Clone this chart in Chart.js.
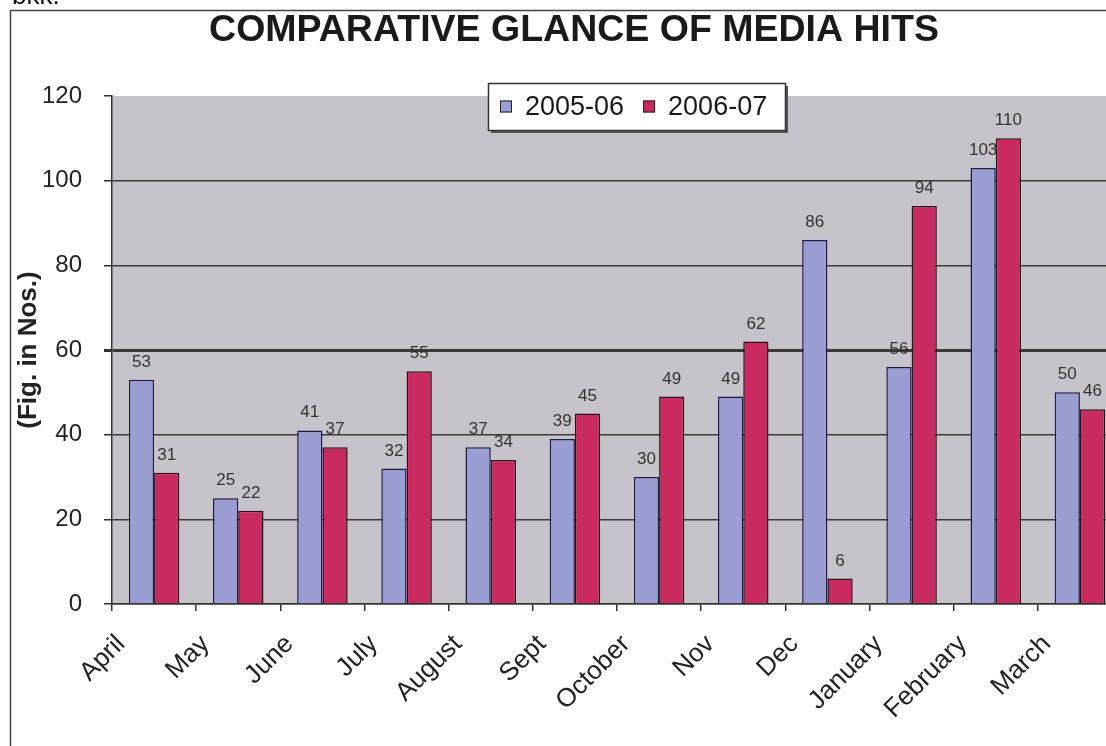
<!DOCTYPE html>
<html>
<head>
<meta charset="utf-8">
<style>
html,body{margin:0;padding:0;background:#fff;overflow:hidden;}
canvas{display:block;}
</style>
<script src="https://cdn.jsdelivr.net/npm/chart.js@4/dist/chart.umd.min.js"></script>
</head>
<body>
<canvas id="mediaChart" width="1140" height="746"></canvas>
<script>

const title = "COMPARATIVE GLANCE OF MEDIA HITS";
const months = ["April","May","June","July","August","Sept","October","Nov","Dec","January","February","March"];
const seriesNames = ["2005-06","2006-07"];
const hits0506 = [53,25,41,32,37,39,30,49,86,56,103,50];
const hits0607 = [31,22,37,55,34,45,49,62,6,94,110,46];
const yTicks = [0,20,40,60,80,100,120];

const FONT = "'Liberation Sans', Arial, sans-serif";


/* BACKGROUND, FRAME, TITLE, LEGEND, VALUE LABELS */

const decor = {
id:"decor",
beforeDraw(chart){
const c = chart.ctx;
const a = chart.chartArea;
c.save();
c.fillStyle = "#fff";
c.fillRect(0,0,chart.width,chart.height);
c.fillStyle = "#c6c4ca";
c.fillRect(a.left,a.top,a.right-a.left,a.bottom-a.top);
// scrap of text above the frame
c.fillStyle = "#111";
c.font = "26px " + FONT;
c.textBaseline = "alphabetic";
c.fillText("bkk.",12,4);
// outer frame
c.strokeStyle = "#444";
c.lineWidth = 1.5;
c.beginPath();
c.moveTo(10.5,chart.height);
c.lineTo(10.5,10.5);
c.lineTo(chart.width,10.5);
c.stroke();
// title
c.fillStyle = "#1a1a1a";
c.font = "bold 37.5px " + FONT;
c.textAlign = "center";
c.textBaseline = "middle";
c.fillText(title,574,31);
c.restore();
},
afterDatasetsDraw(chart){
const c = chart.ctx;
c.save();
c.font = "17px " + FONT;
c.fillStyle = "#333";
c.textAlign = "center";
c.textBaseline = "alphabetic";
chart.data.datasets.forEach((ds,i)=>{
chart.getDatasetMeta(i).data.forEach((bar,j)=>{
c.fillText(ds.data[j],bar.x,bar.y-13);
});
});
c.restore();
},
afterDraw(chart){
const c = chart.ctx;
const x0 = 488, y0 = 83, w = 297, h = 47;
c.save();
c.fillStyle = "#555";
c.fillRect(x0+3,y0+3,w,h);
c.fillStyle = "#fff";
c.fillRect(x0,y0,w,h);
c.strokeStyle = "#333";
c.lineWidth = 1.5;
c.strokeRect(x0+0.5,y0+0.5,w,h);
c.font = "27px " + FONT;
c.textBaseline = "middle";
let x = x0 + 12;
const cy = y0 + h/2;
chart.data.datasets.forEach(ds=>{
c.fillStyle = ds.backgroundColor;
c.fillRect(x,cy-6,12,12);
c.strokeStyle = "#222";
c.lineWidth = 1;
c.strokeRect(x+0.5,cy-5.5,11,11);
x += 25;
c.fillStyle = "#1a1a1a";
c.fillText(ds.label,x,cy+1);
x += c.measureText(ds.label).width + 19;
});
c.restore();
}
};


/* CHART */

new Chart(
document.getElementById("mediaChart"),
{
type:"bar",
data:{
labels:months,
datasets:[
{
label:seriesNames[0],
data:hits0506,
backgroundColor:"#9a9ed2",
borderColor:"#1c1c44",
borderWidth:1.5
},
{
label:seriesNames[1],
data:hits0607,
backgroundColor:"#c92b60",
borderColor:"#2a1020",
borderWidth:1.5
}
]
},
options:{
responsive:false,
animation:false,
devicePixelRatio:1,
layout:{padding:{top:96,left:0,right:18,bottom:0}},
datasets:{bar:{categoryPercentage:0.6,barPercentage:1.0}},
plugins:{legend:{display:false},tooltip:{enabled:false}},
scales:{
x:{
grid:{offset:true,drawOnChartArea:false,drawTicks:true,tickLength:7,color:"#333",lineWidth:1.5},
border:{color:"#333",width:1.5},
ticks:{
maxRotation:45,minRotation:45,
labelOffset:-33,padding:18,
color:"#222",
font:{size:26,family:FONT}
},
afterFit(s){s.height = 142;}
},
y:{
min:yTicks[0],
max:yTicks[yTicks.length-1],
afterBuildTicks(s){s.ticks = yTicks.map(v=>({value:v}));},
ticks:{padding:22,color:"#222",font:{size:24,family:FONT}},
grid:{
tickLength:8,
tickColor:"#333",
color:ctx=>ctx.tick && ctx.tick.value===120 ? "rgba(0,0,0,0)" : "#3a3a3a",
lineWidth:ctx=>ctx.tick && ctx.tick.value===60 ? 3 : 1.5
},
border:{color:"#333",width:1.5},
title:{
display:true,
text:"(Fig. in Nos.)",
color:"#222",
font:{size:26,weight:"bold",family:FONT},
padding:{top:13,bottom:0}
},
afterFit(s){s.width = 112;}
}
}
},
plugins:[decor]
}
);

</script>
</body>
</html>
